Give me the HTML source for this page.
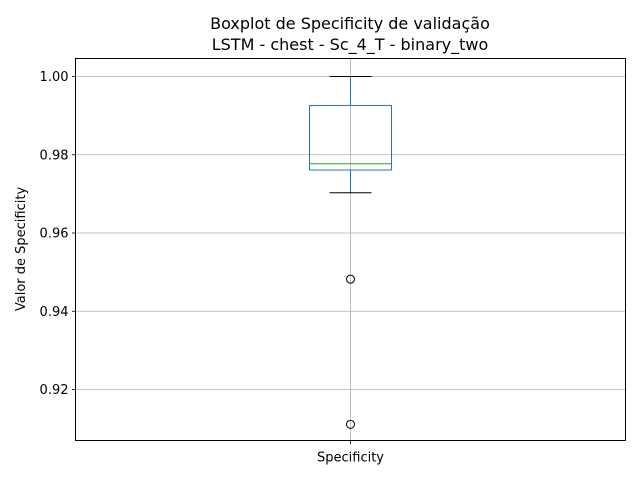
<!DOCTYPE html>
<html><head><meta charset="utf-8">
<style>
body{margin:0;background:#fff;}
svg{display:block;font-family:"DejaVu Sans","Liberation Sans",sans-serif;}
</style></head>
<body>
<svg id="chart" width="640" height="480" viewBox="0 0 640 480">
<rect width="640" height="480" fill="#fff"/>
<text x="350" y="29" font-size="16" text-anchor="middle">Boxplot de Specificity de validação</text>
<text x="350" y="50" font-size="16" text-anchor="middle">LSTM - chest - Sc_4_T - binary_two</text>
<g id="grid"></g>
<g id="marks"></g>
<rect x="75.5" y="58.5" width="550" height="382" fill="none" stroke="#000" stroke-width="1"/>
<g id="axes"></g>
<text x="0" y="0" transform="translate(25,249) rotate(-90)" font-size="13" text-anchor="middle">Valor de Specificity</text>
</svg>
<script>
const categories = ["Specificity"];
const q1Values = [0.9761];
const medianValues = [0.9777];
const q3Values = [0.9926];
const whiskerLow = [0.9703];
const whiskerHigh = [1.0];
const outliers = [[0.9482, 0.9111]];
const yTicks = [0.92, 0.94, 0.96, 0.98, 1.00];
const yTickLabels = ["0.92", "0.94", "0.96", "0.98", "1.00"];

const NS = "http://www.w3.org/2000/svg";
const plot = {left:75.5, right:625.5, top:58.5, bottom:440.5};
const yMin = 0.90697, yMax = 1.0046;
function y(v){ return plot.bottom - (v - yMin) / (yMax - yMin) * (plot.bottom - plot.top); }
function x(i){ return plot.left + (i + 0.5) * (plot.right - plot.left) / categories.length; }
function mk(tag, attrs, parent){
  const e = document.createElementNS(NS, tag);
  for (const k in attrs) e.setAttribute(k, attrs[k]);
  parent.appendChild(e); return e;
}
const grid = document.getElementById('grid');
const marks = document.getElementById('marks');
const axes = document.getElementById('axes');

yTicks.forEach((t, i) => {
  const yy = y(t);
  const g = mk('line', {x1:plot.left, x2:plot.right, y1:yy, y2:yy, stroke:'#b0b0b0', 'stroke-width':0.8}, grid);
  
  
  const tk = mk('line', {x1:plot.left-3.5, x2:plot.left, y1:yy, y2:yy, stroke:'#000', 'stroke-width':0.8}, axes);
  
  
  const lb = mk('text', {x:plot.left-7, y:yy+4.5, 'font-size':13, 'text-anchor':'end'}, axes);
  lb.textContent = yTickLabels[i];
  
  
});

categories.forEach((c, i) => {
  const cx = x(i);
  const vg = mk('line', {x1:cx, x2:cx, y1:plot.top, y2:plot.bottom, stroke:'#b0b0b0', 'stroke-width':0.8}, grid);
  
  
  const tk = mk('line', {x1:cx, x2:cx, y1:plot.bottom, y2:plot.bottom+3.5, stroke:'#000', 'stroke-width':0.8}, axes);
  
  
  const lb = mk('text', {x:cx, y:plot.bottom+21, 'font-size':13, 'text-anchor':'middle'}, axes);
  lb.textContent = c;
  
  

  const bw = 82, cw = 42;
  const wl = mk('line', {x1:cx, x2:cx, y1:y(q1Values[i]), y2:y(whiskerLow[i]), stroke:'#1f77b4', 'stroke-width':1}, marks);
  
  
  const wh = mk('line', {x1:cx, x2:cx, y1:y(q3Values[i]), y2:y(whiskerHigh[i]), stroke:'#1f77b4', 'stroke-width':1}, marks);
  
  
  const cl = mk('line', {x1:cx-cw/2, x2:cx+cw/2, y1:y(whiskerLow[i]), y2:y(whiskerLow[i]), stroke:'#000', 'stroke-width':1}, marks);
  
  
  const ch = mk('line', {x1:cx-cw/2, x2:cx+cw/2, y1:y(whiskerHigh[i]), y2:y(whiskerHigh[i]), stroke:'#000', 'stroke-width':1}, marks);
  
  
  const box = mk('rect', {x:cx-bw/2, y:y(q3Values[i]), width:bw, height:y(q1Values[i])-y(q3Values[i]), fill:'none', stroke:'#1f77b4', 'stroke-width':1}, marks);
  
  
  const md = mk('line', {x1:cx-bw/2, x2:cx+bw/2, y1:y(medianValues[i]), y2:y(medianValues[i]), stroke:'#2ca02c', 'stroke-width':1}, marks);
  
  
  outliers[i].forEach(v => {
    const o = mk('circle', {cx:cx, cy:y(v), r:4, fill:'none', stroke:'#000', 'stroke-width':1}, marks);
    
    
  });
});
</script>
</body></html>
